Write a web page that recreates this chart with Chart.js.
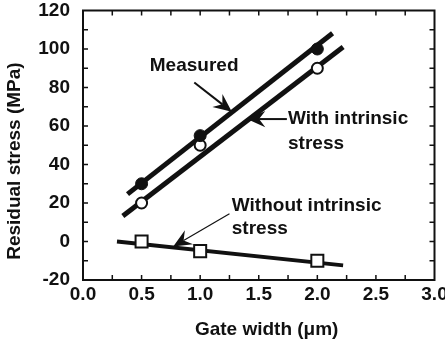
<!DOCTYPE html>
<html>
<head>
<meta charset="utf-8">
<title>Residual stress vs gate width</title>
<script src="https://cdn.jsdelivr.net/npm/chart.js@4/dist/chart.umd.min.js"></script>
<style>
  html, body { margin: 0; padding: 0; background: #fff; }
  #wrap { width: 445px; height: 341px; }
</style>
</head>
<body>
<div id="wrap"><canvas id="stressChart" width="445" height="341"></canvas></div>
<script>
// measured points (gate width in um, stress in MPa)
var gateWidth = [0.5, 1.0, 2.0];
var measured = [30, 55, 100];
var withIntrinsic = [20, 50, 90];
var withoutIntrinsic = [0, -5, -10];

// fitted lines, end points
var measuredFitX = [0.38, 2.13];
var measuredFitY = [24.6, 108.2];
var withFitX = [0.34, 2.22];
var withFitY = [13.3, 101];
var withoutFitX = [0.29, 2.22];
var withoutFitY = [0, -12.4];

// axes
var xTicks = [0, 0.5, 1.0, 1.5, 2.0, 2.5, 3.0];
var yTicks = [-20, 0, 20, 40, 60, 80, 100, 120];

function toPoints(xs, ys) {
    return xs.map(function(x, i) { return { x: x, y: ys[i] }; });
}

var FONT = '"Liberation Sans", Arial, Helvetica, sans-serif';
var INK = '#111';

/**
 * Frame with inward ticks on all four sides.
 */
var frameTicks = {
    id: 'frameTicks',
    afterDraw: function(chart) {
        var ctx = chart.ctx;
        var a = chart.chartArea;
        var xs = chart.scales.x, ys = chart.scales.y;
        var len = 5, v, p;
        ctx.save();
        ctx.strokeStyle = INK;
        ctx.lineWidth = 2;
        ctx.strokeRect(a.left, a.top, a.right - a.left, a.bottom - a.top);
        ctx.lineWidth = 1.5;
        ctx.beginPath();
        for (v = 0.25; v < 3; v += 0.25) {
            p = xs.getPixelForValue(v);
            ctx.moveTo(p, a.bottom); ctx.lineTo(p, a.bottom - len);
            ctx.moveTo(p, a.top); ctx.lineTo(p, a.top + len);
        }
        for (v = -10; v < 120; v += 10) {
            p = ys.getPixelForValue(v);
            ctx.moveTo(a.left, p); ctx.lineTo(a.left + len, p);
            ctx.moveTo(a.right, p); ctx.lineTo(a.right - len, p);
        }
        ctx.stroke();
        ctx.restore();
    }
};

/**
 * Text callouts with arrows, placed in data coordinates.
 */
var callouts = {
    id: 'callouts',
    afterDraw: function(chart, args, opts) {
        var ctx = chart.ctx;
        var xs = chart.scales.x, ys = chart.scales.y;
        ctx.save();
        ctx.fillStyle = INK;
        ctx.strokeStyle = INK;
        ctx.font = 'bold 19px ' + FONT;
        ctx.textBaseline = 'middle';
        ctx.textAlign = 'left';
        opts.items.forEach(function(it) {
            it.lines.forEach(function(line) {
                ctx.fillText(line.text, xs.getPixelForValue(it.x), ys.getPixelForValue(line.y));
            });
            var x1 = xs.getPixelForValue(it.from[0]), y1 = ys.getPixelForValue(it.from[1]);
            var x2 = xs.getPixelForValue(it.to[0]), y2 = ys.getPixelForValue(it.to[1]);
            var ang = Math.atan2(y2 - y1, x2 - x1);
            var hl = it.head;
            ctx.lineWidth = it.width;
            ctx.beginPath();
            ctx.moveTo(x1, y1);
            ctx.lineTo(x2 - Math.cos(ang) * hl * 0.6, y2 - Math.sin(ang) * hl * 0.6);
            ctx.stroke();
            // swept arrow head
            ctx.beginPath();
            ctx.moveTo(x2, y2);
            ctx.lineTo(x2 - hl * Math.cos(ang - 0.42), y2 - hl * Math.sin(ang - 0.42));
            ctx.lineTo(x2 - hl * 0.6 * Math.cos(ang), y2 - hl * 0.6 * Math.sin(ang));
            ctx.lineTo(x2 - hl * Math.cos(ang + 0.42), y2 - hl * Math.sin(ang + 0.42));
            ctx.closePath();
            ctx.fill();
        });
        ctx.restore();
    }
};

var ctx = document.getElementById('stressChart').getContext('2d');

var stressChart = new Chart(ctx, {
    type: 'scatter',
    data: {
        datasets: [
            {
                label: 'Measured',
                data: toPoints(gateWidth, measured),
                pointStyle: 'circle',
                pointRadius: 6,
                pointBackgroundColor: INK,
                pointBorderColor: INK,
                pointBorderWidth: 1,
                order: 0
            },
            {
                label: 'With intrinsic stress',
                data: toPoints(gateWidth, withIntrinsic),
                pointStyle: 'circle',
                pointRadius: 5.5,
                pointBackgroundColor: '#fff',
                pointBorderColor: INK,
                pointBorderWidth: 2,
                order: 0
            },
            {
                label: 'Without intrinsic stress',
                data: toPoints(gateWidth, withoutIntrinsic),
                pointStyle: 'rect',
                pointRadius: 8.5,
                pointBackgroundColor: '#fff',
                pointBorderColor: INK,
                pointBorderWidth: 2,
                order: 0
            },
            {
                label: 'Measured fit',
                data: toPoints(measuredFitX, measuredFitY),
                showLine: true,
                borderColor: INK,
                borderWidth: 5,
                pointRadius: 0,
                order: 1
            },
            {
                label: 'With intrinsic fit',
                data: toPoints(withFitX, withFitY),
                showLine: true,
                borderColor: INK,
                borderWidth: 5,
                pointRadius: 0,
                order: 1
            },
            {
                label: 'Without intrinsic fit',
                data: toPoints(withoutFitX, withoutFitY),
                showLine: true,
                borderColor: INK,
                borderWidth: 4,
                pointRadius: 0,
                order: 1
            }
        ]
    },
    options: {
        responsive: false,
        animation: false,
        events: [],
        layout: { padding: { top: 7, right: 10, left: 0, bottom: 0 } },
        plugins: {
            legend: { display: false },
            tooltip: { enabled: false },
            callouts: {
                items: [
                    {
                        x: 0.57,
                        lines: [{ text: 'Measured', y: 91.3 }],
                        from: [0.95, 82.6], to: [1.27, 67.4],
                        width: 2, head: 20
                    },
                    {
                        x: 1.75,
                        lines: [{ text: 'With intrinsic', y: 63.6 }, { text: 'stress', y: 50.8 }],
                        from: [1.74, 63.6], to: [1.40, 63.6],
                        width: 2, head: 20
                    },
                    {
                        x: 1.27,
                        lines: [{ text: 'Without intrinsic', y: 18.5 }, { text: 'stress', y: 6.7 }],
                        from: [1.25, 14.4], to: [0.77, -2.6],
                        width: 1.2, head: 20
                    }
                ]
            }
        },
        scales: {
            x: {
                type: 'linear',
                min: 0,
                max: 3,
                afterBuildTicks: function(scale) {
                    scale.ticks = xTicks.map(function(v) { return { value: v }; });
                },
                afterFit: function(scale) {
                    scale.height = 61;
                    scale.paddingLeft = 0;
                    scale.paddingRight = 0;
                },
                grid: { display: false, drawTicks: false },
                border: { display: false },
                ticks: {
                    padding: 3,
                    color: INK,
                    font: { family: FONT, size: 19, weight: 'bold' },
                    maxRotation: 0,
                    callback: function(v) { return v.toFixed(1); }
                },
                title: {
                    display: true,
                    text: '   Gate width (\u03bcm)',
                    color: INK,
                    font: { family: FONT, size: 19, weight: 'bold' },
                    padding: { top: 0, bottom: 0 }
                }
            },
            y: {
                type: 'linear',
                min: -20,
                max: 120,
                afterBuildTicks: function(scale) {
                    scale.ticks = yTicks.map(function(v) { return { value: v }; });
                },
                afterFit: function(scale) {
                    scale.width = 83;
                    scale.paddingTop = 0;
                    scale.paddingBottom = 0;
                },
                grid: { display: false, drawTicks: false },
                border: { display: false },
                ticks: {
                    padding: 13,
                    color: INK,
                    font: { family: FONT, size: 19, weight: 'bold' }
                },
                title: {
                    display: true,
                    text: 'Residual stress (MPa)      ',
                    color: INK,
                    font: { family: FONT, size: 19, weight: 'bold' },
                    padding: { top: 3, bottom: 0 }
                }
            }
        }
    },
    plugins: [frameTicks, callouts]
});
</script>
</body>
</html>
